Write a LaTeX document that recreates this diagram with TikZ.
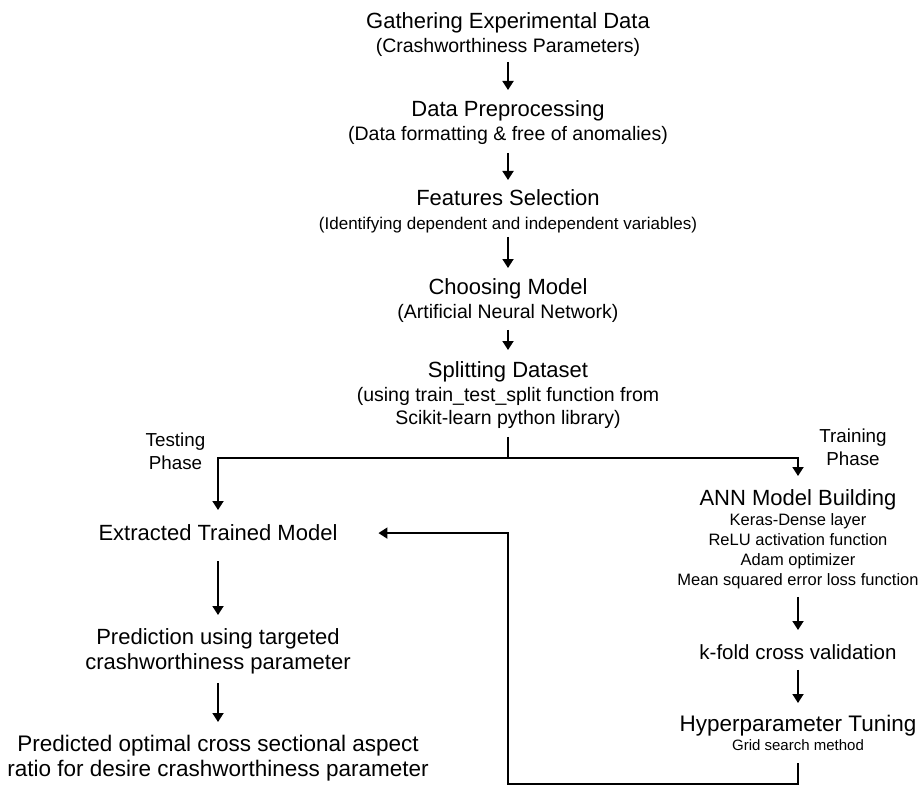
\documentclass[tikz,border=0pt]{standalone}
\usepackage{fontspec}
\setmainfont{Liberation Sans}
\usetikzlibrary{arrows.meta}
\newcommand\fsz[2]{\fontsize{#1}{#2}\selectfont}
\begin{document}
\begin{tikzpicture}[x=1pt,y=-1pt,
  ln/.style={line width=1.8pt},
  arr/.style={ln,-{Triangle[length=9pt,width=11pt]}},
  blk/.style={inner sep=0pt,outer sep=0pt,align=center,anchor=north},
  phase/.style={inner sep=0pt,align=center,font=\fsz{18.8}{23}}]
\useasboundingbox (0,0) rectangle (920,786);

% main column
\node[blk,font=\fsz{19.5}{23.5}] (t1) at (508,13)
  {{\fsz{22}{23.5}Gathering Experimental Data}\\(Crashworthiness Parameters)};
\node[blk,font=\fsz{19.5}{23.5}] (t2) at (508,101)
  {{\fsz{22}{23.5}Data Preprocessing}\\(Data formatting \& free of anomalies)};
\node[blk,font=\fsz{17}{23.5}] (t3) at (508,190)
  {{\fsz{22}{23.5}Features Selection}\\(Identifying dependent and independent variables)};
\node[blk,font=\fsz{19.5}{23.5}] (t4) at (508,279)
  {{\fsz{22}{23.5}Choosing Model}\\(Artificial Neural Network)};
\node[blk,font=\fsz{19.5}{23.5}] (t5) at (508,362)
  {{\fsz{22}{23.5}Splitting Dataset}\\(using train\_test\_split function from\\Scikit-learn python library)};
\coordinate (j) at (508,458);

% phase labels
\node[phase] (test) at (175.5,451.5) {Testing\\Phase};
\node[phase] (train) at (853,447.5) {Training\\Phase};

% left column
\node[blk,font=\fsz{22}{25}] (ext) at (218,525) {Extracted Trained Model};
\node[blk,font=\fsz{22}{25}] (pred1) at (218,628.8)
  {Prediction using targeted\\crashworthiness parameter};
\node[blk,font=\fsz{22.5}{25}] (pred2) at (218,734.7)
  {Predicted optimal cross sectional aspect\\ratio for desire crashworthiness parameter};

% right column
\node[blk,font=\fsz{16.5}{20}] (ann) at (798,490)
  {{\fsz{22}{20}ANN Model Building}\\Keras-Dense layer\\ReLU activation function\\Adam optimizer\\Mean squared error loss function};
\node[blk,font=\fsz{20.5}{24}] (kf) at (798,644.3) {k-fold cross validation};
\node[blk,font=\fsz{15}{18.5}] (hyp) at (798,715.6)
  {{\fsz{22.5}{18.5}Hyperparameter Tuning}\\Grid search method};
\coordinate (fb) at (508,784);

% connectors
\draw[arr,shorten <=5.4pt,shorten >=11pt] (t1.south) -- (t2.north);
\draw[arr,shorten <=8.4pt,shorten >=10pt] (t2.south) -- (t3.north);
\draw[arr,shorten <=4pt,shorten >=11pt] (t3.south) -- (t4.north);
\draw[arr,shorten <=7.4pt,shorten >=12pt] (t4.south) -- (t5.north);
\draw[ln,shorten <=8pt] (t5.south) -- (j);
\draw[arr,shorten >=15pt] (j) -| (ext.north);
\draw[arr,shorten >=14pt] (j) -| (ann.north);
\draw[arr,shorten <=20pt,shorten >=13.8pt] (ext.south) -- (pred1.north);
\draw[arr,shorten <=8.5pt,shorten >=12.7pt] (pred1.south) -- (pred2.north);
\draw[arr,shorten <=7.5pt,shorten >=14.3pt] (ann.south) -- (kf.north);
\draw[arr,shorten <=10.4pt,shorten >=12.6pt] (kf.south) -- (hyp.north);
\draw[arr,shorten <=12.5pt,shorten >=41pt] (hyp.south) |- (fb) |- (ext.east);
\end{tikzpicture}
\end{document}
